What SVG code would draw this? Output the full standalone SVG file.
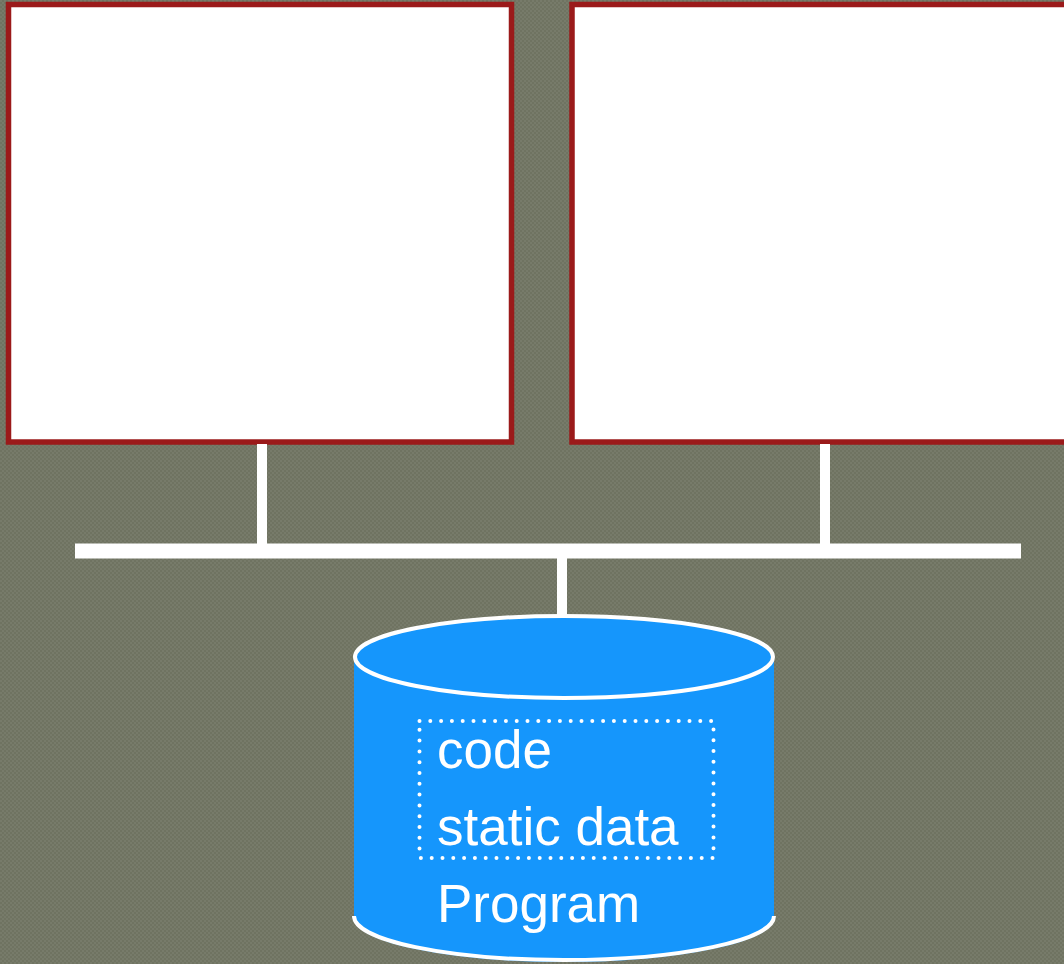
<svg xmlns="http://www.w3.org/2000/svg" width="1064" height="964" viewBox="0 0 1064 964">
<defs>
<pattern id="bg" width="4" height="4" patternUnits="userSpaceOnUse">
<rect width="4" height="4" fill="#6f7361"/>
<rect width="2" height="2" fill="#777b6a"/>
<rect x="2" y="2" width="2" height="2" fill="#777b6a"/>
</pattern>
<style>
.box{fill:#ffffff;stroke:#9b1a1a;stroke-width:5.5}
.wire{stroke:#ffffff;fill:none}
.lbl{font-family:"Liberation Sans",Arial,sans-serif;font-size:53px;fill:#ffffff}
</style>
</defs>
<rect width="1064" height="964" fill="url(#bg)"/>
<g id="node-left"><rect class="box" x="8.5" y="4.5" width="503" height="437.5"/></g>
<g id="node-right"><rect class="box" x="572" y="4.5" width="500" height="437.5"/></g>
<g id="connectors">
<line class="wire" x1="262" y1="444" x2="262" y2="546" stroke-width="10"/>
<line class="wire" x1="825" y1="444" x2="825" y2="546" stroke-width="10"/>
<line class="wire" x1="75" y1="551" x2="1021" y2="551" stroke-width="15"/>
<line class="wire" x1="562" y1="556" x2="562" y2="618" stroke-width="10"/>
</g>
<g id="node-program">
<path d="M354,657 L354,918 A210,44 0 0 0 774,918 L774,657 Z" fill="#1596fc"/>
<path d="M354,916 A210,44 0 0 0 774,916" fill="none" stroke="#ffffff" stroke-width="4"/>
<ellipse cx="564" cy="657" rx="209" ry="41" fill="#1596fc" stroke="#ffffff" stroke-width="4"/>
<rect x="419.5" y="721" width="294" height="137" fill="none" stroke="#ffffff" stroke-width="4" stroke-linecap="round" stroke-dasharray="0 10.8"/>
<text class="lbl" x="437" y="768">code</text>
<text class="lbl" x="437" y="845">static data</text>
<text class="lbl" x="437" y="922">Program</text>
</g>
</svg>
